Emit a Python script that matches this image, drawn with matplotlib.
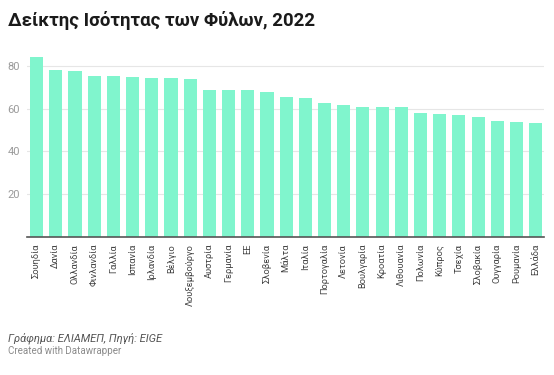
import matplotlib.pyplot as plt

plt.rcParams['font.family'] = ['Roboto', 'DejaVu Sans']

countries = ['Σουηδία', 'Δανία', 'Ολλανδία', 'Φινλανδία', 'Γαλλία', 'Ισπανία', 'Ιρλανδία',
             'Βέλγιο', 'Λουξεμβούργο', 'Αυστρία', 'Γερμανία', 'ΕΕ', 'Σλοβενία', 'Μάλτα',
             'Ιταλία', 'Πορτογαλία', 'Λετονία', 'Βουλγαρία', 'Κροατία', 'Λιθουανία',
             'Πολωνία', 'Κύπρος', 'Τσεχία', 'Σλοβακία', 'Ουγγαρία', 'Ρουμανία', 'Ελλάδα']
values = [83.9, 77.8, 77.3, 75.4, 75.1, 74.6, 74.4, 74.2, 73.6, 68.8, 68.7, 68.6, 67.5, 65.6,
          65.0, 62.8, 61.5, 60.7, 60.7, 60.6, 57.7, 57.3, 57.2, 56.0, 54.2, 53.7, 53.4]
yticks = [20, 40, 60, 80]

fig = plt.figure(figsize=(5.54, 3.75), dpi=100)
ax = fig.add_axes([27/554, 138/375, 517/554, 182/375])

x = range(len(countries))
ax.bar(x, values, width=0.68, color='#80f5cd', zorder=2)

ax.set_xlim(-0.5, 26.43)
ax.set_ylim(0, 85)
ax.set_yticks(yticks)
ax.yaxis.grid(True, color='#e6e6e6', linewidth=0.8, zorder=0)
ax.set_xticks(list(x))
ax.set_xticklabels(countries, rotation=90, fontsize=6.7, color='#444444')
ax.tick_params(axis='x', length=0, pad=5)
ax.tick_params(axis='y', length=0, pad=5, labelsize=8, labelcolor='#9a9a9a')
for lbl in ax.get_yticklabels():
    lbl.set_horizontalalignment('right')

for s in ['top', 'right', 'left']:
    ax.spines[s].set_visible(False)
ax.spines['bottom'].set_color('#555555')
ax.spines['bottom'].set_linewidth(1.2)
ax.spines['bottom'].set_zorder(3)

fig.text(8/554, 1 - 20/375, 'Δείκτης Ισότητας των Φύλων, 2022', fontsize=13.4,
         fontweight='bold', color='#1a1a1a', va='center', ha='left')
fig.text(8/554, 1 - 338/375, 'Γράφημα: ΕΛΙΑΜΕΠ, Πηγή: EIGE', fontsize=8,
         style='italic', color='#555555', va='center', ha='left')
fig.text(8/554, 1 - 351/375, 'Created with Datawrapper', fontsize=7,
         color='#8a8a8a', va='center', ha='left')

fig.savefig('out.png', dpi=100)
